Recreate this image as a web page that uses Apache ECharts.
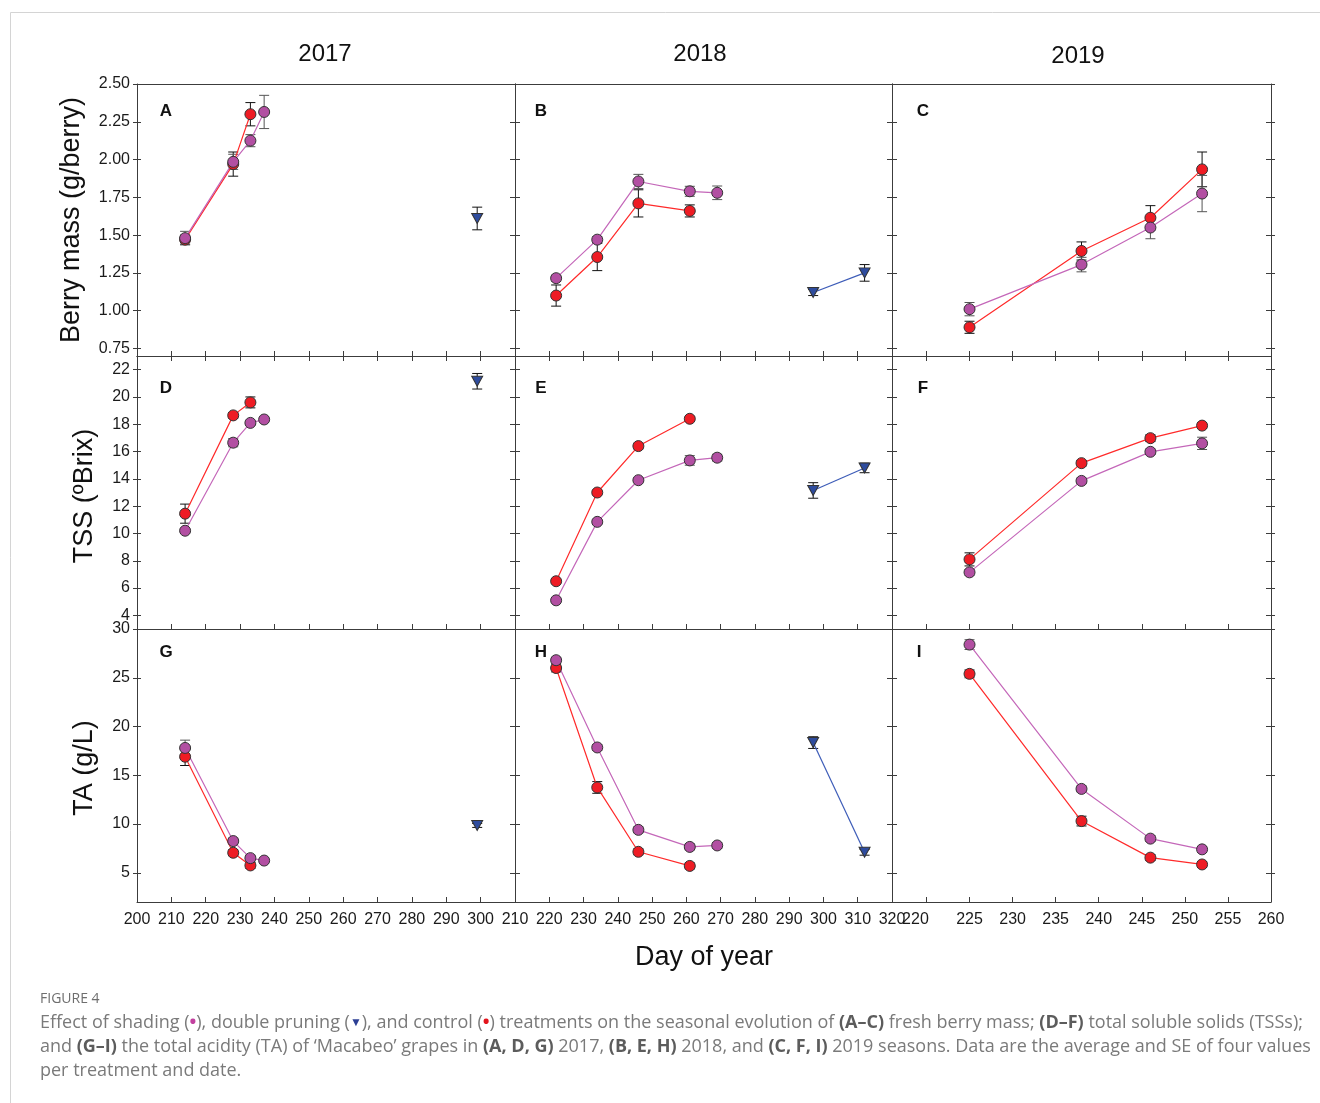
<!DOCTYPE html>
<html>
<head>
<meta charset="utf-8">
<script src="https://cdn.jsdelivr.net/npm/echarts@6/dist/echarts.min.js"></script>
<style>
  html, body { margin: 0; padding: 0; background: #ffffff; }
  #chart { width: 1320px; height: 1103px; }
</style>
</head>
<body>
<div id="chart"></div>
<script>
// ---- Sampling days (day of year) ----
const days2017 = [214, 228, 233, 237];
const days2018 = [222, 234, 246, 261, 269];
const days2019 = [225, 238, 246, 252];
const dpDays2017 = [299];
const dpDays2018 = [297, 312];

// ---- Berry mass (g/berry): mean and SE ----
const massControl2017   = [1.47, 1.97, 2.30, null];
const massControlSE2017 = [0.03, 0.08, 0.077, null];
const massShading2017   = [1.48, 1.985, 2.125, 2.315];
const massShadingSE2017 = [0.045, 0.05, 0.04, 0.11];
const massDP2017   = [1.61];
const massDPSE2017 = [0.075];

const massControl2018   = [1.10, 1.355, 1.71, 1.66, null];
const massControlSE2018 = [0.07, 0.09, 0.09, 0.04, null];
const massShading2018   = [1.215, 1.47, 1.855, 1.79, 1.78];
const massShadingSE2018 = [0.02, 0.02, 0.047, 0.033, 0.045];
const massDP2018   = [1.12, 1.25];
const massDPSE2018 = [0.02, 0.055];

const massControl2019   = [0.89, 1.395, 1.615, 1.935];
const massControlSE2019 = [0.04, 0.06, 0.08, 0.115];
const massShading2019   = [1.01, 1.305, 1.55, 1.775];
const massShadingSE2019 = [0.044, 0.048, 0.074, 0.12];

// ---- Total soluble solids (ºBrix) ----
const tssControl2017   = [11.45, 18.65, 19.6, null];
const tssControlSE2017 = [0.7, 0.2, 0.4, null];
const tssShading2017   = [10.2, 16.65, 18.1, 18.35];
const tssShadingSE2017 = [0.15, 0.3, 0.15, 0.15];
const tssDP2017   = [21.15];
const tssDPSE2017 = [0.57];

const tssControl2018   = [6.5, 13.0, 16.4, 18.4, null];
const tssControlSE2018 = [0.15, 0.15, 0.2, 0.15, null];
const tssShading2018   = [5.1, 10.85, 13.9, 15.35, 15.55];
const tssShadingSE2018 = [0.15, 0.15, 0.15, 0.35, 0.25];
const tssDP2018   = [13.15, 14.8];
const tssDPSE2018 = [0.57, 0.35];

const tssControl2019   = [8.1, 15.15, 16.98, 17.9];
const tssControlSE2019 = [0.48, 0.2, 0.25, 0.2];
const tssShading2019   = [7.15, 13.85, 15.98, 16.6];
const tssShadingSE2019 = [0.2, 0.2, 0.2, 0.45];

// ---- Total acidity (g/L) ----
const taControl2017   = [16.9, 7.05, 5.75, null];
const taControlSE2017 = [0.9, 0.3, 0.3, null];
const taShading2017   = [17.8, 8.25, 6.5, 6.25];
const taShadingSE2017 = [0.8, 0.3, 0.3, 0.2];
const taDP2017   = [9.85];
const taDPSE2017 = [0.2];

const taControl2018   = [26.0, 13.75, 7.15, 5.7, null];
const taControlSE2018 = [0.4, 0.6, 0.3, 0.3, null];
const taShading2018   = [26.8, 17.85, 9.4, 7.65, 7.8];
const taShadingSE2018 = [0.3, 0.3, 0.3, 0.3, 0.3];
const taDP2018   = [18.35, 7.1];
const taDPSE2018 = [0.6, 0.3];

const taControl2019   = [25.4, 10.3, 6.55, 5.85];
const taControlSE2019 = [0.4, 0.5, 0.3, 0.3];
const taShading2019   = [28.4, 13.6, 8.5, 7.4];
const taShadingSE2019 = [0.5, 0.3, 0.3, 0.3];

// ---- Axis tick values ----
const xTicks2017  = [210, 220, 230, 240, 250, 260, 270, 280, 290, 300];
const xLabels2017 = [200, 210, 220, 230, 240, 250, 260, 270, 280, 290, 300];
const xTicks2018  = [220, 230, 240, 250, 260, 270, 280, 290, 300, 310];
const xLabels2018 = [210, 220, 230, 240, 250, 260, 270, 280, 290, 300, 310, 320];
const xTicks2019  = [220, 225, 230, 235, 240, 245, 250, 255];
const xLabels2019 = [220, 225, 230, 235, 240, 245, 250, 255, 260];
const massTicks = [0.75, 1.00, 1.25, 1.50, 1.75, 2.00, 2.25, 2.50];
const tssTicks  = [4, 6, 8, 10, 12, 14, 16, 18, 20, 22];
const taTicks   = [5, 10, 15, 20, 25, 30];

const yearTitles = ['2017', '2018', '2019'];
const yTitles = ['Berry mass (g/berry)', 'TSS (ºBrix)', 'TA (g/L)'];
const panelLetters = ['A', 'B', 'C', 'D', 'E', 'F', 'G', 'H', 'I'];

// ---- Styling ----
const FONT = "'Liberation Sans', Arial, sans-serif";
const AXIS_COLOR = '#3c3c3c';
const RED = '#ee1c24', RED_LINE = '#ff2a2a';
const PURPLE = '#b24fa2', PURPLE_LINE = '#c467b9';
const BLUE = '#2e4c9e', BLUE_LINE = '#3d5cb8';

const cols = [
  { left: 137, width: 378, min: 200, max: 310, ticks: xTicks2017, labels: xLabels2017 },
  { left: 515, width: 377, min: 210, max: 320, ticks: xTicks2018, labels: xLabels2018 },
  { left: 892, width: 379, min: 216, max: 260, ticks: xTicks2019, labels: xLabels2019 }
];
const rows = [
  { top: 84,  height: 272, min: 0.70, max: 2.50, ticks: massTicks, fmt: v => Number(v).toFixed(2) },
  { top: 356, height: 273, min: 3,    max: 23,   ticks: tssTicks,  fmt: v => String(v) },
  { top: 629, height: 273, min: 2,    max: 30,   ticks: taTicks,   fmt: v => String(v) }
];

const panelData = [
  [days2017, massControl2017, massControlSE2017, massShading2017, massShadingSE2017, dpDays2017, massDP2017, massDPSE2017],
  [days2018, massControl2018, massControlSE2018, massShading2018, massShadingSE2018, dpDays2018, massDP2018, massDPSE2018],
  [days2019, massControl2019, massControlSE2019, massShading2019, massShadingSE2019, null, null, null],
  [days2017, tssControl2017, tssControlSE2017, tssShading2017, tssShadingSE2017, dpDays2017, tssDP2017, tssDPSE2017],
  [days2018, tssControl2018, tssControlSE2018, tssShading2018, tssShadingSE2018, dpDays2018, tssDP2018, tssDPSE2018],
  [days2019, tssControl2019, tssControlSE2019, tssShading2019, tssShadingSE2019, null, null, null],
  [days2017, taControl2017, taControlSE2017, taShading2017, taShadingSE2017, dpDays2017, taDP2017, taDPSE2017],
  [days2018, taControl2018, taControlSE2018, taShading2018, taShadingSE2018, dpDays2018, taDP2018, taDPSE2018],
  [days2019, taControl2019, taControlSE2019, taShading2019, taShadingSE2019, null, null, null]
];

const grids = [], xAxes = [], yAxes = [], series = [], graphics = [];

function pairs(days, vals) {
  return days.map((d, i) => [d, vals[i]]).filter(p => p[1] != null);
}
function triples(days, vals, se) {
  return days.map((d, i) => [d, vals[i], se[i]]).filter(p => p[1] != null);
}

function errorSeries(xi, yi, data, color) {
  return {
    type: 'custom', xAxisIndex: xi, yAxisIndex: yi, z: 1, silent: true,
    data: data,
    renderItem: function (params, api) {
      const x = api.value(0), y = api.value(1), e = api.value(2);
      const hi = api.coord([x, y + e]);
      const lo = api.coord([x, y - e]);
      const cap = 5;
      const st = { stroke: color, lineWidth: 1 };
      return {
        type: 'group',
        children: [
          { type: 'line', shape: { x1: hi[0], y1: hi[1], x2: lo[0], y2: lo[1] }, style: st },
          { type: 'line', shape: { x1: hi[0] - cap, y1: hi[1], x2: hi[0] + cap, y2: hi[1] }, style: st },
          { type: 'line', shape: { x1: lo[0] - cap, y1: lo[1], x2: lo[0] + cap, y2: lo[1] }, style: st }
        ]
      };
    }
  };
}

function lineSeries(xi, yi, data, fill, stroke, isDP) {
  return {
    type: 'line', xAxisIndex: xi, yAxisIndex: yi, z: 3,
    data: data,
    symbol: isDP ? 'triangle' : 'circle',
    symbolRotate: isDP ? 180 : 0,
    symbolSize: isDP ? [11, 10] : 11,
    showSymbol: true,
    lineStyle: { color: stroke, width: 1.2 },
    itemStyle: { color: fill, borderColor: '#333333', borderWidth: 1 },
    emphasis: { disabled: true },
    animation: false
  };
}

const tickStyle = { lineStyle: { color: AXIS_COLOR, width: 1 } };
const lineStyle = { show: true, onZero: false, lineStyle: { color: AXIS_COLOR, width: 1 } };

for (let r = 0; r < 3; r++) {
  for (let c = 0; c < 3; c++) {
    const p = r * 3 + c;
    const col = cols[c], row = rows[r];
    grids.push({ left: col.left, top: row.top, width: col.width, height: row.height, containLabel: false });

    // bottom x axis (main)
    const xi = xAxes.length;
    const isBottom = r === 2;
    xAxes.push({
      type: 'value', gridIndex: p, position: 'bottom', min: col.min, max: col.max,
      axisLine: lineStyle,
      axisTick: Object.assign({ show: true, inside: true, length: 5, customValues: col.ticks }, tickStyle),
      axisLabel: {
        show: isBottom, customValues: col.labels, margin: 10,
        fontFamily: FONT, fontSize: 16, color: '#1a1a1a',
        formatter: v => (c === 2 && v === 220) ? '{s|220}' : String(v),
        rich: { s: { fontFamily: FONT, fontSize: 16, color: '#1a1a1a', padding: [0, 22, 0, 0] } }
      },
      splitLine: { show: false }
    });
    // top x axis (frame)
    xAxes.push({
      type: 'value', gridIndex: p, position: 'top', min: col.min, max: col.max,
      axisLine: lineStyle,
      axisTick: Object.assign({ show: r === 1, inside: true, length: 5, customValues: col.ticks }, tickStyle),
      axisLabel: { show: false },
      splitLine: { show: false }
    });

    // left y axis (main)
    const yi = yAxes.length;
    yAxes.push({
      type: 'value', gridIndex: p, position: 'left', min: row.min, max: row.max,
      axisLine: lineStyle,
      axisTick: Object.assign({ show: true, inside: c !== 0, length: c === 0 ? 4 : 5, customValues: row.ticks }, tickStyle),
      axisLabel: {
        show: c === 0, customValues: row.ticks, margin: 7,
        fontFamily: FONT, fontSize: 16, color: '#1a1a1a', formatter: row.fmt
      },
      splitLine: { show: false }
    });
    // right y axis (frame)
    yAxes.push({
      type: 'value', gridIndex: p, position: 'right', min: row.min, max: row.max,
      axisLine: lineStyle,
      axisTick: Object.assign({ show: true, inside: true, length: 5, customValues: row.ticks }, tickStyle),
      axisLabel: { show: false },
      splitLine: { show: false }
    });
    // extra tick rows on the outer edges so the marks cross the frame
    if (c === 0) {
      yAxes.push({
        type: 'value', gridIndex: p, position: 'left', min: row.min, max: row.max,
        axisLine: { show: false },
        axisTick: Object.assign({ show: true, inside: true, length: 4, customValues: row.ticks }, tickStyle),
        axisLabel: { show: false }, splitLine: { show: false }
      });
    }
    if (c === 2) {
      yAxes.push({
        type: 'value', gridIndex: p, position: 'right', min: row.min, max: row.max,
        axisLine: { show: false },
        axisTick: Object.assign({ show: true, inside: false, length: 4, customValues: row.ticks }, tickStyle),
        axisLabel: { show: false }, splitLine: { show: false }
      });
    }

    const d = panelData[p];
    const days = d[0];
    series.push(errorSeries(xi, yi, triples(days, d[1], d[2]), '#111111'));
    series.push(errorSeries(xi, yi, triples(days, d[3], d[4]), '#555555'));
    if (d[5]) series.push(errorSeries(xi, yi, triples(d[5], d[6], d[7]), '#111111'));
    series.push(lineSeries(xi, yi, pairs(days, d[1]), RED, RED_LINE, false));
    series.push(lineSeries(xi, yi, pairs(days, d[3]), PURPLE, PURPLE_LINE, false));
    if (d[5]) series.push(lineSeries(xi, yi, pairs(d[5], d[6]), BLUE, BLUE_LINE, true));
  }
}

// ---- Text decorations ----
const letterPos = [[166, 111], [541, 111], [923, 111], [166, 388], [541, 388], [923, 388], [166, 652], [541, 652], [919, 652]];
panelLetters.forEach((L, i) => {
  graphics.push({ type: 'text', x: letterPos[i][0], y: letterPos[i][1], z: 10,
    style: { text: L, fontFamily: FONT, fontSize: 17, fontWeight: 'bold', fill: '#111', align: 'center', verticalAlign: 'middle' } });
});
const yearPos = [[325, 54], [700, 54], [1078, 56]];
yearTitles.forEach((t, i) => {
  graphics.push({ type: 'text', x: yearPos[i][0], y: yearPos[i][1],
    style: { text: t, fontFamily: FONT, fontSize: 24, fill: '#111', align: 'center', verticalAlign: 'middle' } });
});
const yTitlePos = [[72, 220], [85, 496], [85, 768]];
yTitles.forEach((t, i) => {
  graphics.push({ type: 'text', x: yTitlePos[i][0], y: yTitlePos[i][1], rotation: Math.PI / 2,
    style: { text: t, fontFamily: FONT, fontSize: 27, fill: '#111', align: 'center', verticalAlign: 'middle' } });
});
graphics.push({ type: 'text', x: 704, y: 958,
  style: { text: 'Day of year', fontFamily: FONT, fontSize: 27, fill: '#111', align: 'center', verticalAlign: 'middle' } });

// page frame
graphics.push({ type: 'polyline', shape: { points: [[10.5, 1103], [10.5, 12.5], [1320, 12.5]] },
  style: { stroke: '#d4d4d4', lineWidth: 1, fill: null } });

// caption
const CAP_FONT = "'Open Sans', Lato, sans-serif";
const CAP_SIZE = 18;
const CAP_COLOR = '#7a7a7a';
const capRich = {
  b: { fontFamily: CAP_FONT, fontSize: CAP_SIZE, fontWeight: 'bold', fill: '#5c5c5c' },
  m: { fontFamily: CAP_FONT, fontSize: CAP_SIZE, fill: '#c2409f', fontWeight: 'bold' },
  r: { fontFamily: CAP_FONT, fontSize: CAP_SIZE, fill: '#e3141c', fontWeight: 'bold' },
  t: { fontFamily: CAP_FONT, fontSize: 12, fill: '#2c3f94' }
};
graphics.push({ type: 'text', x: 40, y: 999,
  style: { text: 'FIGURE 4', fontFamily: CAP_FONT, fontSize: 14, fill: '#6e6e6e', verticalAlign: 'middle' } });
const captionLines = [
  'Effect of shading ({m|•}), double pruning ({t|▼}), and control ({r|•}) treatments on the seasonal evolution of {b|(A–C)} fresh berry mass; {b|(D–F)} total soluble solids (TSSs);',
  'and {b|(G–I)} the total acidity (TA) of ‘Macabeo’ grapes in {b|(A, D, G)} 2017, {b|(B, E, H)} 2018, and {b|(C, F, I)} 2019 seasons. Data are the average and SE of four values',
  'per treatment and date.'
];
captionLines.forEach((t, i) => {
  graphics.push({ type: 'text', x: 40, y: 1023 + i * 24,
    style: { text: t, rich: capRich, fontFamily: CAP_FONT, fontSize: CAP_SIZE, fill: CAP_COLOR, verticalAlign: 'middle' } });
});

const chart = echarts.init(document.getElementById('chart'), null, { renderer: 'canvas' });
chart.setOption({
  animation: false,
  backgroundColor: '#ffffff',
  grid: grids,
  xAxis: xAxes,
  yAxis: yAxes,
  series: series,
  graphic: graphics
});
</script>
</body>
</html>
